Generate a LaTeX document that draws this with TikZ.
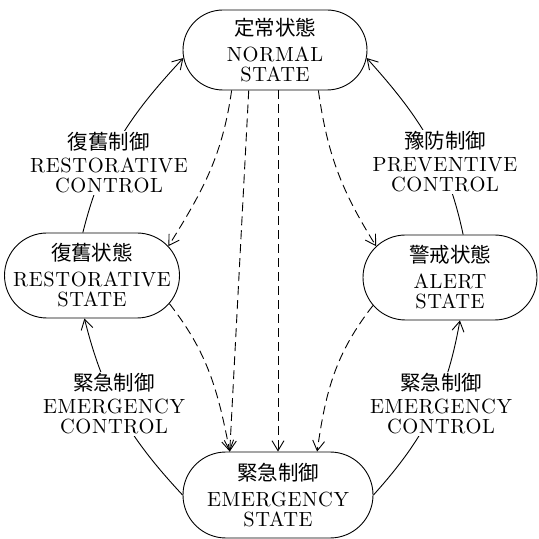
\documentclass[tikz,border=0pt]{standalone}
\usepackage{fontspec}
\setmainfont{lmroman10-regular}[Extension=.otf, LetterSpace=3]
\newfontfamily\jp{Noto Sans CJK JP}
\usetikzlibrary{arrows.meta,shapes.misc}
\newcommand{\mb}[1]{\makebox[0pt]{#1}}
\begin{document}
\begin{tikzpicture}[x=1pt,y=1pt,
  statebox/.style={draw, rounded rectangle, line width=0.9pt, inner sep=0pt,
    align=center, font=\fontsize{20.5}{20}\selectfont},
  ctrllabel/.style={fill=white, inner sep=2pt, align=center,
    font=\fontsize{20.5}{20}\selectfont},
  ctrl/.style={line width=0.9pt, -{Straight Barb[length=10pt,width=12pt]}},
  dist/.style={ctrl, dash pattern=on 9pt off 5pt}]
\fill[white] (0,0) rectangle (539,539);
\useasboundingbox (0,0) rectangle (539,539);

\node[statebox, minimum width=184pt, minimum height=80pt] (N) at (275,489)
  {\mb{\jp 定常状態}\\[6pt]\mb{NORMAL}\\\mb{STATE}};
\node[statebox, minimum width=175pt, minimum height=85pt] (R) at (92,263.5)
  {\mb{\jp 復舊状態}\\[6pt]\mb{RESTORATIVE}\\\mb{STATE}};
\node[statebox, minimum width=174pt, minimum height=85pt] (A) at (450,261.5)
  {\mb{\jp 警戒状態}\\[6pt]\mb{ALERT}\\\mb{STATE}};
\node[statebox, minimum width=190pt, minimum height=86pt] (E) at (278,44)
  {\mb{\jp 緊急制御}\\[6pt]\mb{EMERGENCY}\\\mb{STATE}};

% control actions (solid)
\draw[ctrl] (R.102) to[out=76,in=227] (N.185);
\draw[ctrl] (A.73) to[out=102,in=312] (N.355);
\draw[ctrl] (E.180) to[out=133,in=-76] (R.260);
\draw[ctrl] (E.0) to[out=48,in=260] (A.283);

% disturbances (dashed)
\draw[dist] (N.223) to[out=262,in=58] (R.21);
\draw[dist] (N.317) to[out=278,in=122] (A.157);
\draw[dist] (N.237) -- (E.138);
\draw[dist] (N.south -| E.north) -- (E.north);
\draw[dist] (R.-20) to[out=308,in=101] (E.138);
\draw[dist] (A.200) to[out=232,in=82] (E.48);

% labels
\node[ctrllabel] (LR) at (109,376) {{\jp 復舊制御}\\[3pt]RESTORATIVE\\CONTROL};
\node[ctrllabel] (LP) at (445,377) {{\jp 豫防制御}\\[3pt]PREVENTIVE\\CONTROL};
\node[ctrllabel] (LE1) at (114,135) {{\jp 緊急制御}\\[3pt]EMERGENCY\\CONTROL};
\node[ctrllabel] (LE2) at (441,135) {{\jp 緊急制御}\\[3pt]EMERGENCY\\CONTROL};
\end{tikzpicture}
\end{document}
